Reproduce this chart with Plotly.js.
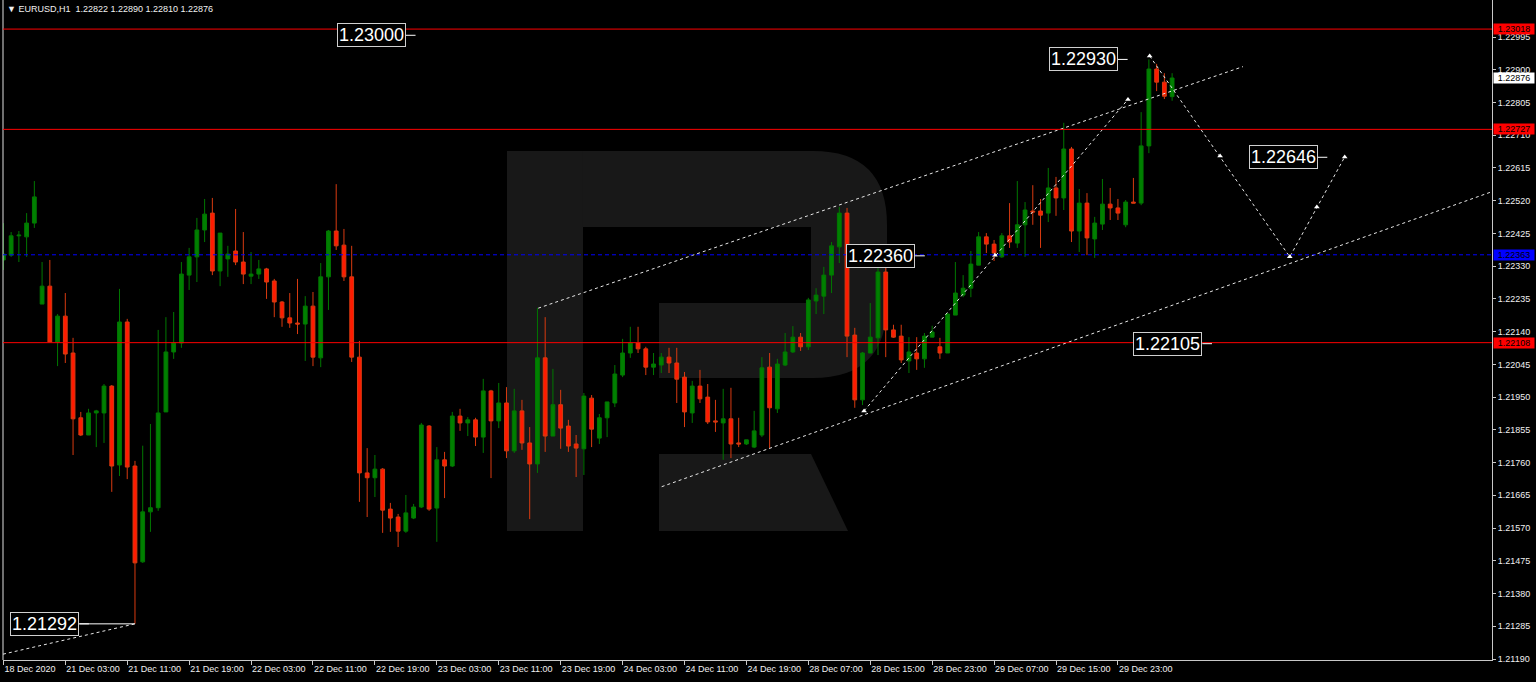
<!DOCTYPE html>
<html>
<head>
<meta charset="utf-8">
<script src="https://cdn.plot.ly/plotly-3.0.1.min.js"></script>
<style>
html,body{margin:0;padding:0;background:#000;}
#chart{width:1536px;height:682px;}
</style>
</head>
<body>
<div id="chart"></div>
<script>
// ---- data (EURUSD H1 bars) ----
const openP = [1.22348,1.22362,1.22418,1.22415,1.22455,1.22220,1.22272,1.22110,1.22185,1.22078,
1.21890,1.21840,1.21904,1.21904,1.21982,1.21753,1.22168,1.21750,1.21472,1.21617,
1.21629,1.21907,1.22081,1.22107,1.22304,1.22357,1.22435,1.22484,1.22316,1.22351,
1.22374,1.22342,1.22301,1.22307,1.22322,1.22287,1.22226,1.22180,1.22165,1.22162,
1.22214,1.22064,1.22299,1.22432,1.22391,1.22299,1.22066,1.21730,1.21716,1.21741,
1.21625,1.21602,1.21561,1.21599,1.21631,1.21866,1.21628,1.21768,1.21750,1.21895,
1.21875,1.21884,1.21834,1.21968,1.21881,1.21933,1.21794,1.21910,1.21817,1.21756,
1.22064,1.21837,1.21928,1.21866,1.21814,1.21800,1.21947,1.21831,1.21890,1.21933,
1.22014,1.22078,1.22107,1.22090,1.22037,1.22043,1.22066,1.22049,1.22008,1.21904,
1.21982,1.21950,1.21881,1.21875,1.21887,1.21817,1.21814,1.21805,1.21840,1.22037,
1.21916,1.22043,1.22081,1.22124,1.22096,1.22229,1.22243,1.22304,1.22386,1.22484,
1.22130,1.21942,1.22078,1.22122,1.22313,1.22145,1.22127,1.22055,1.22078,1.22061,
1.22124,1.22096,1.22078,1.22188,1.22246,1.22266,1.22333,1.22415,1.22394,1.22357,
1.22418,1.22397,1.22450,1.22490,1.22490,1.22484,1.22557,1.22528,1.22670,1.22432,
1.22513,1.22409,1.22452,1.22510,1.22499,1.22450,1.22516,1.22513,1.22679,1.22902,
1.22864,1.22822];
const highP = [1.22455,1.22429,1.22432,1.22484,1.22577,1.22342,1.22348,1.22191,1.22252,1.22122,
1.21907,1.21916,1.21913,1.21988,1.21985,1.22264,1.22177,1.21765,1.21809,1.21872,
1.22145,1.22182,1.22197,1.22342,1.22383,1.22470,1.22525,1.22528,1.22426,1.22389,
1.22496,1.22429,1.22371,1.22348,1.22325,1.22293,1.22229,1.22252,1.22293,1.22243,
1.22255,1.22339,1.22435,1.22568,1.22438,1.22389,1.22113,1.21802,1.21782,1.21744,
1.21643,1.21611,1.21666,1.21640,1.21875,1.21869,1.21805,1.21791,1.21907,1.21916,
1.21892,1.21890,1.22003,1.21971,1.21991,1.21979,1.21974,1.21942,1.21863,1.22209,
1.22182,1.22032,1.21971,1.21884,1.21840,1.21962,1.21956,1.21901,1.21936,1.22043,
1.22119,1.22154,1.22154,1.22096,1.22078,1.22078,1.22093,1.22093,1.22023,1.21997,
1.22029,1.21988,1.21942,1.21974,1.21977,1.21890,1.21826,1.21910,1.22066,1.22078,
1.22061,1.22136,1.22156,1.22136,1.22238,1.22266,1.22328,1.22400,1.22502,1.22499,
1.22151,1.22081,1.22223,1.22391,1.22368,1.22160,1.22160,1.22124,1.22124,1.22136,
1.22157,1.22122,1.22194,1.22342,1.22304,1.22374,1.22429,1.22426,1.22406,1.22426,
1.22513,1.22577,1.22516,1.22565,1.22525,1.22615,1.22589,1.22746,1.22676,1.22554,
1.22542,1.22473,1.22583,1.22557,1.22525,1.22522,1.22586,1.22777,1.22930,1.22917,
1.22890,1.22890];
const lowP = [1.22319,1.22357,1.22342,1.22357,1.22441,1.22220,1.22110,1.22040,1.22049,1.21782,
1.21837,1.21840,1.21805,1.21817,1.21675,1.21721,1.21712,1.21292,1.21469,1.21559,
1.21620,1.21907,1.22061,1.22093,1.22261,1.22284,1.22400,1.22304,1.22272,1.22299,
1.22333,1.22278,1.22278,1.22293,1.22235,1.22182,1.22154,1.22151,1.22133,1.22055,
1.22040,1.22037,1.22203,1.22377,1.22287,1.22052,1.21646,1.21602,1.21660,1.21556,
1.21559,1.21515,1.21556,1.21596,1.21628,1.21620,1.21530,1.21657,1.21747,1.21852,
1.21837,1.21808,1.21788,1.21715,1.21860,1.21773,1.21788,1.21797,1.21596,1.21730,
1.21791,1.21837,1.21800,1.21791,1.21718,1.21724,1.21805,1.21814,1.21834,1.21921,
1.22008,1.22064,1.22078,1.22014,1.22014,1.22020,1.22020,1.21933,1.21863,1.21875,
1.21933,1.21872,1.21849,1.21768,1.21773,1.21805,1.21811,1.21802,1.21834,1.21802,
1.21904,1.22040,1.22078,1.22084,1.22087,1.22191,1.22191,1.22252,1.22339,1.22066,
1.21919,1.21927,1.22078,1.22072,1.22066,1.22122,1.22049,1.22020,1.22029,1.22035,
1.22124,1.22061,1.22078,1.22188,1.22240,1.22240,1.22333,1.22368,1.22345,1.22354,
1.22383,1.22383,1.22357,1.22450,1.22383,1.22458,1.22476,1.22493,1.22400,1.22371,
1.22362,1.22354,1.22435,1.22464,1.22464,1.22443,1.22513,1.22507,1.22658,1.22838,
1.22815,1.22810];
const closeP = [1.22365,1.22418,1.22420,1.22455,1.22531,1.22272,1.22110,1.22185,1.22075,1.21887,
1.21840,1.21904,1.21910,1.21982,1.21750,1.22168,1.21747,1.21469,1.21617,1.21629,
1.21904,1.22081,1.22107,1.22307,1.22357,1.22435,1.22481,1.22316,1.22426,1.22365,
1.22342,1.22307,1.22307,1.22322,1.22284,1.22226,1.22180,1.22165,1.22162,1.22214,
1.22066,1.22299,1.22432,1.22389,1.22299,1.22066,1.21730,1.21716,1.21741,1.21622,
1.21599,1.21561,1.21614,1.21631,1.21869,1.21625,1.21768,1.21750,1.21895,1.21875,
1.21884,1.21834,1.21968,1.21881,1.21933,1.21794,1.21910,1.21817,1.21756,1.22064,
1.21837,1.21928,1.21860,1.21808,1.21802,1.21953,1.21857,1.21890,1.21936,1.22017,
1.22078,1.22107,1.22090,1.22037,1.22046,1.22066,1.22049,1.22002,1.21907,1.21982,
1.21945,1.21878,1.21878,1.21887,1.21814,1.21814,1.21826,1.21852,1.22035,1.21919,
1.22046,1.22081,1.22124,1.22096,1.22232,1.22246,1.22304,1.22389,1.22484,1.22127,
1.21942,1.22078,1.22124,1.22313,1.22145,1.22124,1.22058,1.22081,1.22061,1.22127,
1.22139,1.22078,1.22191,1.22252,1.22266,1.22336,1.22415,1.22394,1.22368,1.22418,
1.22400,1.22450,1.22493,1.22487,1.22478,1.22557,1.22528,1.22670,1.22432,1.22513,
1.22412,1.22455,1.22510,1.22499,1.22484,1.22516,1.22513,1.22679,1.22902,1.22864,
1.22823,1.22876];

// time axis labels (every 8th bar)
const timeTickBars = [0,8,16,24,32,40,48,56,64,72,80,88,96,104,112,120,128,136,144];
const timeTickText = ['18 Dec 2020','21 Dec 03:00','21 Dec 11:00','21 Dec 19:00','22 Dec 03:00','22 Dec 11:00',
'22 Dec 19:00','23 Dec 03:00','23 Dec 11:00','23 Dec 19:00','24 Dec 03:00','24 Dec 11:00','24 Dec 19:00',
'28 Dec 07:00','28 Dec 15:00','28 Dec 23:00','29 Dec 07:00','29 Dec 15:00','29 Dec 23:00'];

// price scale labels
const priceTicks = ['1.21190','1.21285','1.21380','1.21475','1.21570','1.21665','1.21760','1.21855','1.21950',
'1.22045','1.22140','1.22235','1.22330','1.22425','1.22520','1.22615','1.22710','1.22805','1.22900','1.22995'];

// horizontal levels
const redLevels = [1.23018, 1.22727, 1.22108];
const blueLevel = 1.22363;
const lastPrice = 1.22876;

// price label objects (text, bar position of right edge)
const labelText = ['1.23000','1.22930','1.22646','1.22360','1.22105','1.21292'];
const labelBar  = [52.0, 144.0, 169.8, 117.8, 154.9, 9.8];

// trend lines (bar, price)
const upperBars = [69.1, 160.15], upperPrices = [1.22208, 1.22909];
const lowerBars = [85.05, 192.06], lowerPrices = [1.21690, 1.22544];
const leftBars = [-0.05, 17.0], leftPrices = [1.21204, 1.21292];
const riseBars = [111.2, 145.3], risePrices = [1.21910, 1.22814];
const fcBars = [148.1, 166.2, 173.3], fcPrices = [1.22940, 1.22357, 1.22647];
const arrowBars = [111.2, 128.1, 145.3, 148.1, 157.2, 166.2, 169.7, 173.3];
const arrowPrices = [1.21910, 1.22362, 1.22814, 1.22940, 1.22650, 1.22357, 1.22502, 1.22647];

// ---- build ----
const bars = openP.map((_, i) => i);
const PLOT_L = 3, PLOT_W = 1489, PLOT_H = 660;
const pxX = x => (x - PLOT_L) / PLOT_W;
const pxY = y => (PLOT_H - y) / PLOT_H;
const P = (x, y) => pxX(x).toFixed(5) + ',' + pxY(y).toFixed(5);

const candles = {
  type: 'candlestick', x: bars, open: openP, high: highP, low: lowP, close: closeP,
  increasing: {line: {color: '#007800', width: 1}, fillcolor: '#008000'},
  decreasing: {line: {color: '#d83a10', width: 1}, fillcolor: '#ff1a00'},
  whiskerwidth: 0, hoverinfo: 'skip', showlegend: false
};

const dotted = {color: '#e8e8e8', width: 1, dash: '3px,3px'};
const lineTrace = (xs, ys) => ({type: 'scatter', mode: 'lines', x: xs, y: ys, line: dotted, hoverinfo: 'skip', showlegend: false});

const arrows = {
  type: 'scatter', mode: 'markers', x: arrowBars, y: arrowPrices,
  marker: {symbol: 'triangle-up', size: 5, color: '#ffffff'},
  hoverinfo: 'skip', showlegend: false
};

const shapes = [];
const wm = '#181818';
// watermark "R"
shapes.push({type: 'rect', xref: 'paper', yref: 'paper', x0: pxX(507), x1: pxX(583), y0: pxY(531), y1: pxY(151), fillcolor: wm, line: {width: 0}, layer: 'below'});
shapes.push({type: 'path', xref: 'paper', yref: 'paper', layer: 'below', fillcolor: wm, line: {width: 0},
  path: 'M' + P(583,151) + ' L' + P(813,151) + ' Q' + P(887,151) + ' ' + P(887,225) + ' L' + P(887,303) +
        ' Q' + P(887,378) + ' ' + P(813,378) + ' L' + P(659,378) + ' L' + P(659,303) + ' L' + P(811,303) +
        ' L' + P(811,227) + ' L' + P(583,227) + ' Z'});
shapes.push({type: 'path', xref: 'paper', yref: 'paper', layer: 'below', fillcolor: wm, line: {width: 0},
  path: 'M' + P(659,454) + ' L' + P(811,454) + ' L' + P(848,531) + ' L' + P(659,531) + ' Z'});
// left border
shapes.push({type: 'line', xref: 'paper', yref: 'paper', x0: 0, x1: 0, y0: 0, y1: 1, line: {color: '#e0e0e0', width: 1}});
// levels
redLevels.forEach(v => shapes.push({type: 'line', xref: 'paper', yref: 'y', x0: 0, x1: 1, y0: v, y1: v, line: {color: '#ff0000', width: 1}, layer: 'above'}));
shapes.push({type: 'line', xref: 'paper', yref: 'y', x0: 0, x1: 1, y0: blueLevel, y1: blueLevel, line: {color: '#0000ff', width: 1, dash: '4px,3px'}, layer: 'above'});
// short lines after price labels
labelText.forEach((t, i) => shapes.push({type: 'line', xref: 'x', yref: 'y', x0: labelBar[i], x1: labelBar[i] + 1.25, y0: parseFloat(t), y1: parseFloat(t), line: {color: '#ffffff', width: 1}}));
// solid segment to the low
shapes.push({type: 'line', xref: 'x', yref: 'y', x0: labelBar[5], x1: leftBars[1], y0: leftPrices[1], y1: leftPrices[1], line: {color: '#ffffff', width: 1}});

const annotations = [];
// header
annotations.push({xref: 'paper', yref: 'paper', x: pxX(5), y: pxY(9), xanchor: 'left', yanchor: 'middle', showarrow: false,
  text: '\u25BC\u00A0EURUSD,H1\u00A0\u00A0' + [openP, highP, lowP, closeP].map(a => a[a.length - 1].toFixed(5)).join(' '),
  font: {family: 'Liberation Sans, Arial, sans-serif', size: 9, color: '#f0f0f0'}});
// price label objects
labelText.forEach((t, i) => annotations.push({xref: 'x', yref: 'y', x: labelBar[i], y: parseFloat(t), xanchor: 'right', yanchor: 'middle',
  showarrow: false, text: t, bgcolor: '#000000', bordercolor: '#d0d0d0', borderwidth: 1, borderpad: 1,
  font: {family: 'Liberation Sans, Arial, sans-serif', size: 18, color: '#ffffff'}}));
// right-scale price boxes
const boxes = [[redLevels[0], '#ff0000', '#000000'], [lastPrice, '#ffffff', '#000000'], [redLevels[1], '#ff0000', '#000000'],
               [blueLevel, '#0000ff', '#000000'], [redLevels[2], '#ff0000', '#000000']];
boxes.forEach(b => annotations.push({xref: 'paper', yref: 'y', x: 1, y: b[0], xanchor: 'left', yanchor: 'middle', xshift: 1,
  showarrow: false, text: b[0].toFixed(5), bgcolor: b[1], width: 40, height: 10, borderpad: 0,
  font: {family: 'Liberation Sans, Arial, sans-serif', size: 9, color: b[2]}}));

const layout = {
  width: 1536, height: 682,
  margin: {l: PLOT_L, r: 1536 - PLOT_L - PLOT_W, t: 0, b: 682 - PLOT_H, pad: 0},
  paper_bgcolor: '#000000', plot_bgcolor: '#000000',
  showlegend: false, boxgap: 0.3,
  xaxis: {
    range: [-0.05, 192.33], rangeslider: {visible: false}, showgrid: false, zeroline: false,
    showline: true, linecolor: '#c8c8c8', linewidth: 1,
    tickmode: 'array', tickvals: timeTickBars, ticktext: timeTickText, tickangle: 0,
    ticks: 'outside', ticklen: 4, tickcolor: '#c8c8c8', ticklabelposition: 'outside right',
    tickfont: {family: 'Liberation Sans, Arial, sans-serif', size: 9, color: '#f0f0f0'}, fixedrange: true
  },
  yaxis: {
    range: [1.211871, 1.231024], side: 'right', showgrid: false, zeroline: false,
    showline: true, linecolor: '#c8c8c8', linewidth: 1,
    tickmode: 'array', tickvals: priceTicks.map(Number), ticktext: priceTicks,
    ticks: 'outside', ticklen: 3, tickcolor: '#c8c8c8',
    tickfont: {family: 'Liberation Sans, Arial, sans-serif', size: 9, color: '#f0f0f0'}, fixedrange: true
  },
  shapes: shapes, annotations: annotations
};

Plotly.newPlot('chart', [candles,
  lineTrace(upperBars, upperPrices), lineTrace(lowerBars, lowerPrices), lineTrace(leftBars, leftPrices),
  lineTrace(riseBars, risePrices), lineTrace(fcBars, fcPrices), arrows], layout, {displayModeBar: false, staticPlot: true});
</script>
</body>
</html>
